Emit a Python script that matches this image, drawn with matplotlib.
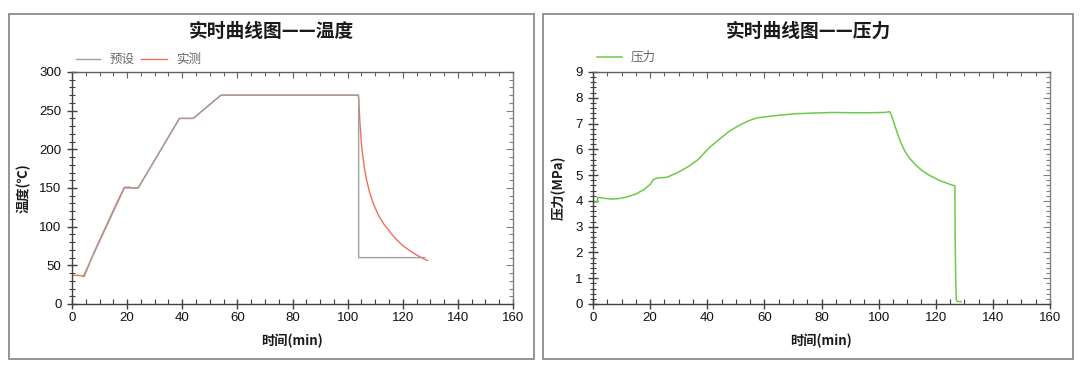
import matplotlib
matplotlib.use("Agg")
import matplotlib.pyplot as plt
from matplotlib.patches import Rectangle
from matplotlib.lines import Line2D
from matplotlib.ticker import MultipleLocator

plt.rcParams['font.family'] = ['Liberation Sans', 'Noto Sans CJK SC', 'DejaVu Sans']
CJK = ['Noto Sans CJK SC', 'DejaVu Sans']

# ---------------- data ----------------
preset_t = [4, 19, 24, 39, 44, 54, 104, 104, 128]
preset_T = [35, 150, 150, 240, 240, 270, 270, 60, 60]

actual_t = [0, 2, 3.8, 4.5, 8, 12, 16, 19, 21, 22, 24, 28, 32, 36, 39, 44, 49, 54,
            80, 103.8, 104.0, 104.5, 105.1, 106, 106.9, 108, 109.3, 111, 113,
            115.4, 117.8, 120, 122.7, 125, 127, 129]
actual_T = [37, 37, 36.5, 36, 67, 98, 129, 151, 151, 150, 150, 174, 198, 222, 240, 240, 255, 270,
            270, 270, 266, 232, 203, 178, 160, 144, 130, 116, 104,
            93, 83, 75.5, 68.5, 63.4, 59.6, 56.2]

press_t = [0, 1.6, 1.7, 4, 6.6, 9, 11.5, 15.1, 18.1, 20.2, 21.1, 22.3, 26, 29.6, 33.2,
           36.8, 39.3, 41.1, 44.1, 47.7, 50.7, 54.3, 57.4, 61, 65.8, 70.7, 77.9, 84,
           90, 97.2, 102, 103.9, 104.5, 105.5, 106.5, 107.5, 108.5, 109.5, 111, 113,
           115, 117.8, 121.4, 125, 126.7, 126.8, 127.0, 127.2, 127.5, 128.9]
press_P = [3.96, 3.96, 4.14, 4.10, 4.07, 4.09, 4.14, 4.27, 4.46, 4.66, 4.83, 4.88, 4.92,
           5.10, 5.32, 5.60, 5.90, 6.10, 6.38, 6.70, 6.90, 7.10, 7.22, 7.27, 7.33,
           7.38, 7.41, 7.43, 7.42, 7.42, 7.43, 7.46, 7.32, 6.98, 6.64, 6.34, 6.08,
           5.87, 5.63, 5.39, 5.19, 4.99, 4.79, 4.64, 4.58, 2.5, 0.9, 0.17, 0.10, 0.09]

W, H = 1080, 371
fig = plt.figure(figsize=(W / 100, H / 100), dpi=100)


def fx(px):
    return px / W


def fy(py):
    return 1 - py / H


def style_axes(ax, ymax, ymajor, yminor):
    ax.set_xlim(0, 160)
    ax.set_ylim(0, ymax)
    ax.xaxis.set_major_locator(MultipleLocator(20))
    ax.xaxis.set_minor_locator(MultipleLocator(5))
    ax.yaxis.set_major_locator(MultipleLocator(ymajor))
    ax.yaxis.set_minor_locator(MultipleLocator(yminor))
    for s in ax.spines.values():
        s.set_color('#404040')
        s.set_linewidth(1.0)
    ax.spines['right'].set_color('#808080')
    ax.spines['top'].set_color('#606060')
    ax.tick_params(axis='x', which='major', direction='inout', length=7, width=1,
                   color='#404040', labelsize=9.5, pad=2, labelcolor='#111')
    ax.tick_params(axis='x', which='minor', direction='in', length=3.5, width=0.8,
                   color='#404040')
    ax.tick_params(axis='y', which='major', direction='inout', length=7, width=1,
                   color='#404040', labelsize=9.5, pad=4, labelcolor='#111')
    ax.tick_params(axis='y', which='minor', direction='inout', length=4.5, width=0.8,
                   color='#404040')
    # inward ticks on top and right
    sx = ax.secondary_xaxis('top')
    sx.xaxis.set_major_locator(MultipleLocator(20))
    sx.xaxis.set_minor_locator(MultipleLocator(5))
    sx.tick_params(which='major', direction='in', length=4, width=0.8, color='#606060',
                   labeltop=False)
    sx.tick_params(which='minor', direction='in', length=3, width=0.8, color='#606060')
    sx.spines['top'].set_visible(False)
    sy = ax.secondary_yaxis('right')
    sy.yaxis.set_major_locator(MultipleLocator(ymajor))
    sy.yaxis.set_minor_locator(MultipleLocator(yminor))
    sy.tick_params(which='major', direction='in', length=5, width=0.8, color='#808080',
                   labelright=False)
    sy.tick_params(which='minor', direction='in', length=3, width=0.8, color='#808080')
    sy.spines['right'].set_visible(False)


# ---------------- left panel ----------------
ax1 = fig.add_axes([fx(72), fy(304), (513 - 72) / W, (304 - 72) / H])
ax1.plot(actual_t, actual_T, color='#f0705a', lw=1.0, zorder=2)
ax1.plot(preset_t, preset_T, color='#a0a0a0', lw=1.0, zorder=3)
style_axes(ax1, 300, 50, 10)

# ---------------- right panel ----------------
ax2 = fig.add_axes([fx(593), fy(304), (1050 - 593) / W, (304 - 72) / H])
ax2.plot(press_t, press_P, color='#6cca48', lw=1.1)
style_axes(ax2, 9, 1, 0.2)

# frames
for x0, x1 in [(8.6, 534), (543.4, 1073)]:
    fig.add_artist(Rectangle((fx(x0), fy(359)), (x1 - x0) / W, (359 - 14) / H,
                             transform=fig.transFigure, fill=False,
                             ec='#8c8c8c', lw=1.3))

# titles
fig.text(fx(271), fy(31), '实时曲线图——温度', family=CJK, fontsize=13.5,
         weight='bold', ha='center', va='center', color='#1a1a1a')
fig.text(fx(808), fy(31), '实时曲线图——压力', family=CJK, fontsize=13.5,
         weight='bold', ha='center', va='center', color='#1a1a1a')

# legends
fig.add_artist(Line2D([fx(76), fx(100)], [fy(59), fy(59)], color='#a0a0a0', lw=1.0,
                      transform=fig.transFigure))
fig.text(fx(110), fy(59), '预设', family=CJK, fontsize=9, color='#666666',
         ha='left', va='center')
fig.add_artist(Line2D([fx(141), fx(167)], [fy(59), fy(59)], color='#f0705a', lw=1.0,
                      transform=fig.transFigure))
fig.text(fx(176), fy(59), '实测', family=CJK, fontsize=9, color='#666666',
         ha='left', va='center')
fig.add_artist(Line2D([fx(597), fx(622)], [fy(57), fy(57)], color='#6cca48', lw=1.1,
                      transform=fig.transFigure))
fig.text(fx(631), fy(57), '压力', family=CJK, fontsize=9, color='#666666',
         ha='left', va='center')

# axis labels
fig.text(fx(292), fy(341), '时间(min)', family=CJK, fontsize=9.5, weight='bold',
         ha='center', va='center', color='#1a1a1a')
fig.text(fx(821), fy(341), '时间(min)', family=CJK, fontsize=9.5, weight='bold',
         ha='center', va='center', color='#1a1a1a')
fig.text(fx(23.5), fy(188), '温度(℃)', family=CJK, fontsize=9.5, weight='bold',
         rotation=90, ha='center', va='center', color='#1a1a1a')
fig.text(fx(559), fy(188), '压力(MPa)', family=CJK, fontsize=9.5, weight='bold',
         rotation=90, ha='center', va='center', color='#1a1a1a')

fig.savefig('out.png', dpi=100, facecolor='white')
